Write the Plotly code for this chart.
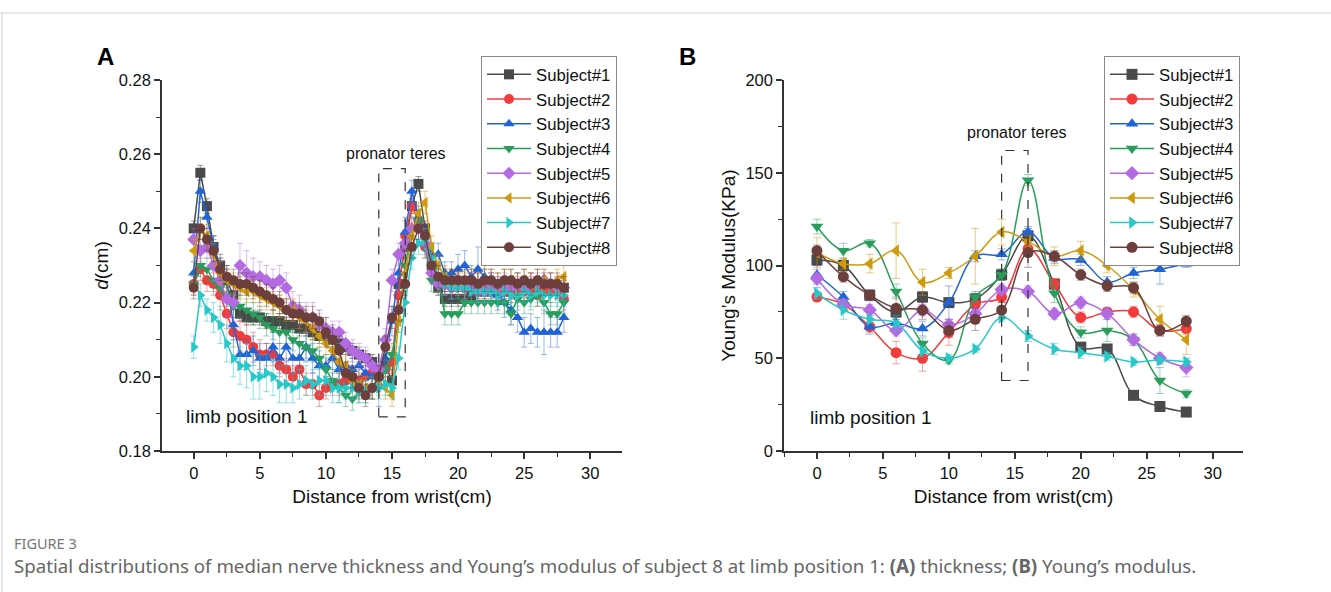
import plotly.graph_objects as go

# ---------------- data ----------------
SUBJECTS = ["Subject#1", "Subject#2", "Subject#3", "Subject#4",
            "Subject#5", "Subject#6", "Subject#7", "Subject#8"]
COLORS = ["#4a4a4a", "#f23b3b", "#1f63d8", "#2a9d5c",
          "#b36ae2", "#cf9a0c", "#28c8c8", "#6c3f3c"]
ECOLORS = ["rgba(74,74,74,0.55)", "rgba(242,59,59,0.45)", "rgba(31,99,216,0.45)",
           "rgba(42,157,92,0.45)", "rgba(179,106,226,0.45)", "rgba(207,154,12,0.5)",
           "rgba(40,200,200,0.5)", "rgba(108,63,60,0.45)"]
SYMBOLS = ["square", "circle", "triangle-up", "triangle-down",
           "diamond", "triangle-left", "triangle-right", "circle"]

# Panel A: distance (cm) every 0.5 cm
dist_a = [0, 0.5, 1, 1.5, 2, 2.5, 3, 3.5, 4, 4.5, 5, 5.5, 6, 6.5, 7, 7.5, 8, 8.5, 9, 9.5,
          10, 10.5, 11, 11.5, 12, 12.5, 13, 13.5, 14, 14.5, 15, 15.5, 16, 16.5, 17, 17.5,
          18, 18.5, 19, 19.5, 20, 20.5, 21, 21.5, 22, 22.5, 23, 23.5, 24, 24.5, 25, 25.5,
          26, 26.5, 27, 27.5, 28]

d_s1 = [0.240, 0.255, 0.246, 0.235, 0.230, 0.226, 0.222, 0.217, 0.216, 0.216,
        0.216, 0.215, 0.215, 0.215, 0.214, 0.214, 0.213, 0.213, 0.212, 0.211,
        0.211, 0.210, 0.209, 0.208, 0.207, 0.206, 0.205, 0.204, 0.201, 0.203,
        0.199, 0.225, 0.235, 0.246, 0.252, 0.240, 0.230, 0.224, 0.221, 0.221,
        0.221, 0.221, 0.222, 0.223, 0.223, 0.223, 0.223, 0.223, 0.223, 0.224,
        0.224, 0.224, 0.224, 0.224, 0.224, 0.224, 0.224]
d_s2 = [0.225, 0.229, 0.226, 0.225, 0.222, 0.217, 0.212, 0.211, 0.210, 0.208,
        0.206, 0.206, 0.206, 0.203, 0.202, 0.200, 0.202, 0.198, 0.198, 0.195,
        0.197, 0.198, 0.198, 0.199, 0.200, 0.199, 0.200, 0.201, 0.200, 0.202,
        0.204, 0.222, 0.238, 0.246, 0.242, 0.235, 0.230, 0.226, 0.225, 0.225,
        0.226, 0.224, 0.225, 0.225, 0.224, 0.225, 0.224, 0.223, 0.223, 0.224,
        0.223, 0.224, 0.222, 0.223, 0.223, 0.224, 0.221]
d_s3 = [0.228, 0.250, 0.243, 0.235, 0.229, 0.226, 0.214, 0.206, 0.206, 0.207,
        0.205, 0.205, 0.208, 0.205, 0.208, 0.205, 0.205, 0.208, 0.205, 0.203,
        0.203, 0.205, 0.202, 0.203, 0.202, 0.203, 0.201, 0.200, 0.198, 0.205,
        0.215, 0.228, 0.239, 0.250, 0.243, 0.238, 0.233, 0.233, 0.228, 0.228,
        0.229, 0.230, 0.227, 0.229, 0.227, 0.225, 0.222, 0.220, 0.218, 0.216,
        0.212, 0.213, 0.212, 0.212, 0.212, 0.212, 0.216]
d_s4 = [0.225, 0.230, 0.229, 0.226, 0.224, 0.222, 0.219, 0.219, 0.218, 0.217,
        0.216, 0.214, 0.213, 0.212, 0.212, 0.210, 0.209, 0.208, 0.207, 0.205,
        0.202, 0.199, 0.197, 0.195, 0.194, 0.196, 0.196, 0.197, 0.199, 0.202,
        0.206, 0.215, 0.230, 0.240, 0.242, 0.235, 0.226, 0.226, 0.217, 0.217,
        0.217, 0.220, 0.220, 0.220, 0.220, 0.220, 0.220, 0.220, 0.217, 0.221,
        0.220, 0.221, 0.222, 0.220, 0.217, 0.217, 0.220]
d_s5 = [0.237, 0.234, 0.235, 0.230, 0.226, 0.221, 0.220, 0.230, 0.228, 0.227,
        0.227, 0.226, 0.225, 0.226, 0.224, 0.219, 0.218, 0.216, 0.216, 0.214,
        0.213, 0.212, 0.212, 0.209, 0.207, 0.206, 0.205, 0.203, 0.202, 0.210,
        0.226, 0.233, 0.236, 0.240, 0.240, 0.236, 0.228, 0.225, 0.225, 0.224,
        0.225, 0.224, 0.225, 0.223, 0.223, 0.225, 0.224, 0.225, 0.224, 0.225,
        0.224, 0.225, 0.225, 0.226, 0.225, 0.224, 0.224]
d_s6 = [0.234, 0.240, 0.238, 0.233, 0.228, 0.226, 0.225, 0.224, 0.223, 0.223,
        0.222, 0.221, 0.220, 0.219, 0.218, 0.218, 0.216, 0.215, 0.213, 0.211,
        0.209, 0.207, 0.204, 0.203, 0.199, 0.198, 0.197, 0.197, 0.198, 0.197,
        0.195, 0.215, 0.228, 0.238, 0.244, 0.247, 0.235, 0.230, 0.227, 0.226,
        0.225, 0.225, 0.226, 0.225, 0.226, 0.226, 0.225, 0.226, 0.226, 0.225,
        0.226, 0.225, 0.226, 0.226, 0.225, 0.226, 0.227]
d_s7 = [0.208, 0.222, 0.218, 0.216, 0.214, 0.209, 0.205, 0.203, 0.203, 0.200,
        0.200, 0.201, 0.200, 0.198, 0.198, 0.197, 0.198, 0.199, 0.198, 0.199,
        0.199, 0.197, 0.197, 0.197, 0.197, 0.196, 0.196, 0.197, 0.197, 0.198,
        0.197, 0.205, 0.220, 0.232, 0.236, 0.237, 0.232, 0.227, 0.225, 0.224,
        0.224, 0.224, 0.223, 0.223, 0.223, 0.223, 0.222, 0.223, 0.222, 0.222,
        0.223, 0.222, 0.223, 0.222, 0.222, 0.222, 0.222]
d_s8 = [0.224, 0.240, 0.237, 0.234, 0.229, 0.227, 0.226, 0.225, 0.225, 0.224,
        0.223, 0.222, 0.221, 0.220, 0.218, 0.217, 0.217, 0.216, 0.216, 0.215,
        0.212, 0.210, 0.207, 0.201, 0.200, 0.197, 0.195, 0.197, 0.200, 0.208,
        0.216, 0.218, 0.225, 0.235, 0.240, 0.238, 0.230, 0.227, 0.226, 0.226,
        0.226, 0.226, 0.226, 0.225, 0.226, 0.226, 0.225, 0.226, 0.226, 0.225,
        0.226, 0.225, 0.226, 0.225, 0.225, 0.225, 0.224]

d_err1 = [0.002, 0.002, 0.002, 0.003, 0.003, 0.003, 0.003, 0.002, 0.002, 0.002,
          0.002, 0.002, 0.003, 0.002, 0.002, 0.002, 0.002, 0.002, 0.002, 0.002,
          0.002, 0.002, 0.002, 0.002, 0.002, 0.002, 0.002, 0.002, 0.002, 0.003,
          0.003, 0.003, 0.003, 0.002, 0.002, 0.002, 0.002, 0.002, 0.002, 0.002,
          0.002, 0.002, 0.002, 0.002, 0.002, 0.002, 0.002, 0.002, 0.002, 0.002,
          0.002, 0.002, 0.002, 0.002, 0.002, 0.002, 0.002]
d_err2 = [0.003, 0.003, 0.003, 0.003, 0.004, 0.004, 0.004, 0.004, 0.004, 0.004,
          0.004, 0.003, 0.003, 0.003, 0.003, 0.003, 0.003, 0.003, 0.003, 0.003,
          0.003, 0.003, 0.003, 0.003, 0.003, 0.003, 0.003, 0.003, 0.003, 0.003,
          0.003, 0.004, 0.004, 0.003, 0.003, 0.003, 0.003, 0.003, 0.003, 0.003,
          0.003, 0.003, 0.003, 0.003, 0.003, 0.003, 0.003, 0.003, 0.003, 0.003,
          0.003, 0.003, 0.003, 0.003, 0.003, 0.003, 0.003]
d_err3 = [0.003, 0.003, 0.003, 0.003, 0.003, 0.004, 0.004, 0.004, 0.004, 0.004,
          0.004, 0.004, 0.004, 0.004, 0.004, 0.004, 0.004, 0.004, 0.004, 0.004,
          0.003, 0.003, 0.003, 0.003, 0.003, 0.003, 0.003, 0.003, 0.006, 0.004,
          0.004, 0.004, 0.004, 0.003, 0.003, 0.003, 0.003, 0.003, 0.003, 0.003,
          0.004, 0.004, 0.003, 0.006, 0.003, 0.003, 0.004, 0.004, 0.004, 0.004,
          0.004, 0.004, 0.004, 0.006, 0.004, 0.004, 0.004]
d_err4 = [0.003, 0.003, 0.003, 0.003, 0.003, 0.003, 0.003, 0.003, 0.003, 0.003,
          0.003, 0.003, 0.003, 0.003, 0.003, 0.003, 0.003, 0.003, 0.003, 0.003,
          0.003, 0.003, 0.004, 0.003, 0.003, 0.003, 0.003, 0.003, 0.003, 0.003,
          0.003, 0.003, 0.003, 0.003, 0.003, 0.003, 0.003, 0.003, 0.003, 0.003,
          0.003, 0.003, 0.003, 0.003, 0.003, 0.003, 0.003, 0.003, 0.003, 0.003,
          0.003, 0.003, 0.003, 0.003, 0.003, 0.003, 0.003]
d_err5 = [0.003, 0.003, 0.003, 0.004, 0.004, 0.005, 0.005, 0.006, 0.006, 0.005,
          0.004, 0.004, 0.004, 0.004, 0.004, 0.004, 0.004, 0.004, 0.004, 0.003,
          0.003, 0.003, 0.003, 0.003, 0.003, 0.003, 0.003, 0.003, 0.003, 0.003,
          0.003, 0.003, 0.003, 0.003, 0.003, 0.003, 0.003, 0.003, 0.003, 0.003,
          0.003, 0.003, 0.003, 0.003, 0.003, 0.003, 0.003, 0.003, 0.003, 0.003,
          0.003, 0.003, 0.003, 0.003, 0.003, 0.003, 0.003]
d_err6 = [0.003, 0.003, 0.003, 0.003, 0.003, 0.003, 0.003, 0.003, 0.003, 0.003,
          0.003, 0.003, 0.003, 0.003, 0.003, 0.003, 0.003, 0.003, 0.003, 0.003,
          0.003, 0.003, 0.003, 0.003, 0.003, 0.003, 0.003, 0.003, 0.003, 0.003,
          0.003, 0.003, 0.003, 0.003, 0.003, 0.003, 0.003, 0.003, 0.003, 0.003,
          0.003, 0.003, 0.003, 0.003, 0.003, 0.003, 0.003, 0.003, 0.003, 0.003,
          0.003, 0.003, 0.003, 0.003, 0.003, 0.003, 0.003]
d_err7 = [0.003, 0.003, 0.003, 0.004, 0.005, 0.005, 0.005, 0.005, 0.006, 0.006,
          0.006, 0.005, 0.005, 0.005, 0.005, 0.004, 0.004, 0.004, 0.004, 0.004,
          0.004, 0.004, 0.004, 0.003, 0.003, 0.003, 0.003, 0.003, 0.003, 0.003,
          0.003, 0.003, 0.003, 0.003, 0.003, 0.003, 0.003, 0.003, 0.003, 0.003,
          0.003, 0.003, 0.003, 0.003, 0.003, 0.003, 0.003, 0.003, 0.003, 0.003,
          0.003, 0.003, 0.003, 0.003, 0.003, 0.003, 0.003]
d_err8 = [0.003, 0.003, 0.003, 0.003, 0.003, 0.003, 0.003, 0.003, 0.003, 0.003,
          0.003, 0.003, 0.003, 0.003, 0.003, 0.003, 0.003, 0.003, 0.003, 0.003,
          0.004, 0.004, 0.004, 0.003, 0.003, 0.003, 0.003, 0.003, 0.003, 0.003,
          0.003, 0.003, 0.003, 0.003, 0.003, 0.003, 0.003, 0.003, 0.003, 0.003,
          0.003, 0.003, 0.003, 0.003, 0.003, 0.003, 0.003, 0.003, 0.003, 0.003,
          0.003, 0.003, 0.003, 0.003, 0.003, 0.003, 0.003]

# Panel B: distance (cm) every 2 cm
dist_b = [0, 2, 4, 6, 8, 10, 12, 14, 16, 18, 20, 22, 24, 26, 28]
e_s1 = [103, 100, 84, 75, 83, 80, 82, 95, 116, 90, 56, 55, 30, 24, 21]
e_s2 = [83, 79, 67, 53, 50, 64, 79, 83, 109, 90, 72, 75, 75, 65, 66]
e_s3 = [95, 83, 67, 69, 66, 80, 105, 106, 118, 104, 103, 91, 96, 98, 101]
e_s4 = [121, 108, 112, 86, 58, 49, 83, 95, 146, 85, 64, 65, 60, 38, 31]
e_s5 = [93, 79, 76, 65, 76, 68, 74, 87, 86, 74, 80, 74, 60, 50, 45]
e_s6 = [107, 101, 101, 108, 91, 96, 105, 118, 113, 105, 108, 100, 87, 71, 60]
e_s7 = [85, 76, 71, 69, 54, 50, 55, 72, 62, 55, 53, 51, 48, 49, 48]
e_s8 = [108, 94, 84, 77, 76, 65, 71, 76, 107, 105, 95, 89, 88, 65, 70]

e_err1 = [3, 3, 2, 3, 3, 2, 3, 3, 4, 2, 2, 2, 2, 2, 2]
e_err2 = [2, 3, 3, 6, 7, 7, 3, 3, 4, 3, 3, 2, 3, 3, 3]
e_err3 = [5, 3, 4, 4, 4, 9, 3, 3, 3, 3, 3, 3, 3, 8, 2]
e_err4 = [4, 4, 2, 4, 3, 2, 3, 3, 3, 5, 3, 6, 3, 7, 2]
e_err5 = [5, 3, 3, 3, 3, 3, 3, 3, 3, 3, 3, 3, 3, 3, 5]
e_err6 = [8, 3, 5, 15, 7, 3, 15, 7, 3, 5, 5, 4, 4, 7, 8]
e_err7 = [3, 5, 2, 4, 3, 2, 2, 2, 3, 3, 3, 2, 2, 2, 2]
e_err8 = [3, 3, 3, 6, 5, 4, 6, 4, 8, 3, 3, 3, 3, 3, 3]

thick = [d_s1, d_s2, d_s3, d_s4, d_s5, d_s6, d_s7, d_s8]
thick_err = [d_err1, d_err2, d_err3, d_err4, d_err5, d_err6, d_err7, d_err8]
modulus = [e_s1, e_s2, e_s3, e_s4, e_s5, e_s6, e_s7, e_s8]
modulus_err = [e_err1, e_err2, e_err3, e_err4, e_err5, e_err6, e_err7, e_err8]

# ---------------- figure ----------------
W, H = 1331, 592
FONT = "Liberation Sans, Arial, sans-serif"

def px(x):
    return x / W

def py(y):
    return 1 - y / H

fig = go.Figure()

for i in range(8):
    fig.add_trace(go.Scatter(
        x=dist_a, y=thick[i], name=SUBJECTS[i], mode="lines+markers",
        line=dict(color=COLORS[i], width=1.5),
        marker=dict(symbol=SYMBOLS[i], size=10, color=COLORS[i]),
        error_y=dict(type="data", array=thick_err[i], color=ECOLORS[i],
                     thickness=1, width=3),
        xaxis="x", yaxis="y", legend="legend"))

for i in range(8):
    fig.add_trace(go.Scatter(
        x=dist_b, y=modulus[i], name=SUBJECTS[i], mode="lines+markers",
        line=dict(color=COLORS[i], width=1.5, shape="spline", smoothing=1.1),
        marker=dict(symbol=SYMBOLS[i], size=11, color=COLORS[i]),
        error_y=dict(type="data", array=modulus_err[i], color=ECOLORS[i],
                     thickness=1, width=4),
        xaxis="x2", yaxis="y2", legend="legend2"))

axis_common = dict(showline=True, linecolor="#333", linewidth=1.5,
                   ticks="outside", ticklen=6, tickwidth=1.5, tickcolor="#333",
                   showgrid=False, zeroline=False, automargin=False,
                   tickfont=dict(family=FONT, size=16.5, color="#111"),
                   title_font=dict(family=FONT, size=19, color="#111"))

fig.update_layout(
    width=W, height=H, autosize=False,
    margin=dict(l=0, r=0, t=0, b=0, pad=0, autoexpand=False),
    paper_bgcolor="white", plot_bgcolor="white",
    font=dict(family=FONT, color="#111"),
    xaxis=dict(domain=[px(162), px(622)], range=[-2.4, 32.4], anchor="y",
               tickvals=[0, 5, 10, 15, 20, 25, 30],
               minor=dict(ticks="outside", dtick=2.5, tick0=0, ticklen=4, tickwidth=1.2, tickcolor="#333"),
               title=dict(text="Distance from wrist(cm)", standoff=9), **axis_common),
    yaxis=dict(domain=[py(451), py(80)], range=[0.18, 0.28], anchor="x",
               tickvals=[0.18, 0.20, 0.22, 0.24, 0.26, 0.28], tickformat=".2f",
               minor=dict(ticks="outside", dtick=0.01, tick0=0.18, ticklen=4, tickwidth=1.2, tickcolor="#333"),
               title=dict(text="<i>d</i>(cm)", standoff=5), **axis_common),
    xaxis2=dict(domain=[px(784), px(1243)], range=[-2.5, 32.3], anchor="y2",
                tickvals=[0, 5, 10, 15, 20, 25, 30],
                minor=dict(ticks="outside", dtick=2.5, tick0=0, ticklen=4, tickwidth=1.2, tickcolor="#333"),
                title=dict(text="Distance from wrist(cm)", standoff=9), **axis_common),
    yaxis2=dict(domain=[py(451), py(80)], range=[0, 200], anchor="x2",
                tickvals=[0, 50, 100, 150, 200],
                minor=dict(ticks="outside", dtick=25, tick0=0, ticklen=4, tickwidth=1.2, tickcolor="#333"),
                title=dict(text="Young’s Modulus(KPa)", standoff=5), **axis_common),
    legend=dict(x=px(481), y=py(56), xanchor="left", yanchor="top",
                bordercolor="#888", borderwidth=1, bgcolor="white",
                font=dict(family=FONT, size=16.7, color="#111"),
                itemwidth=44, tracegroupgap=0),
    legend2=dict(x=px(1104), y=py(56), xanchor="left", yanchor="top",
                 bordercolor="#888", borderwidth=1, bgcolor="white",
                 font=dict(family=FONT, size=16.7, color="#111"),
                 itemwidth=44, tracegroupgap=0),
)

# boxes marking the pronator teres region
dash_line = dict(color="#333", width=1.2, dash="dash")
fig.add_shape(type="rect", xref="x", yref="y", x0=14, x1=16, y0=0.1892, y1=0.2561, line=dash_line)
fig.add_shape(type="rect", xref="x2", yref="y2", x0=14, x1=16, y0=38, y1=162, line=dash_line)

# page frame lines
fig.add_shape(type="line", xref="paper", yref="paper", x0=0, x1=1, y0=py(13), y1=py(13),
              line=dict(color="#d0d0d0", width=1))
fig.add_shape(type="line", xref="paper", yref="paper", x0=px(2), x1=px(2), y0=0, y1=py(13),
              line=dict(color="#d0d0d0", width=1))

ann_font = dict(family=FONT, size=16, color="#111")
fig.add_annotation(text="pronator teres", xref="x", yref="y", x=15.3, y=0.2603,
                   showarrow=False, font=ann_font)
fig.add_annotation(text="pronator teres", xref="x2", yref="y2", x=15.2, y=171.5,
                   showarrow=False, font=ann_font)
fig.add_annotation(text="limb position 1", xref="x", yref="y", x=-0.7, y=0.1892,
                   xanchor="left", showarrow=False, font=dict(family=FONT, size=19, color="#111"))
fig.add_annotation(text="limb position 1", xref="x2", yref="y2", x=-0.7, y=18.3,
                   xanchor="left", showarrow=False, font=dict(family=FONT, size=19, color="#111"))

fig.add_annotation(text="<b>A</b>", xref="paper", yref="paper", x=px(105), y=py(57),
                   xanchor="center", yanchor="middle",
                   showarrow=False, font=dict(family=FONT, size=24, color="#000"))
fig.add_annotation(text="<b>B</b>", xref="paper", yref="paper", x=px(687), y=py(57),
                   xanchor="center", yanchor="middle",
                   showarrow=False, font=dict(family=FONT, size=24, color="#000"))

CAP_FONT = "Noto Sans, Open Sans, sans-serif"
fig.add_annotation(text="FIGURE 3", xref="paper", yref="paper", x=px(12), y=py(543),
                   xanchor="left", yanchor="middle", showarrow=False,
                   font=dict(family=CAP_FONT, size=14.5, color="#777"))
fig.add_annotation(text="Spatial distributions of median nerve thickness and Young’s modulus of subject 8 "
                        "at limb position 1: <b>(A)</b> thickness; <b>(B)</b> Young’s modulus.",
                   xref="paper", yref="paper", x=px(12), y=py(565),
                   xanchor="left", yanchor="middle", showarrow=False,
                   font=dict(family=CAP_FONT, size=18.7, color="#666"))

fig.write_html("out.html", config={"displayModeBar": False},
               post_script="document.body.style.margin='0';document.body.style.overflow='hidden';")
